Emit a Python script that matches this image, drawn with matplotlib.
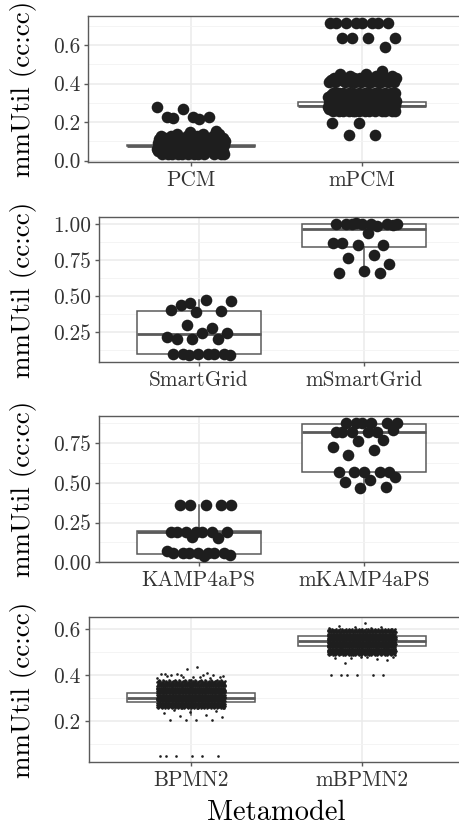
import numpy as np
import matplotlib.pyplot as plt

plt.rcParams['font.family'] = ['cmr10', 'DejaVu Serif']
plt.rcParams['axes.formatter.use_mathtext'] = True

# ---- data ----
y_title = "mmUtil (cc:cc)"
x_title = "Metamodel"

# panel 1: PCM / mPCM
pcm_cats = ["PCM", "mPCM"]
pcm_levels = [0.035, 0.05, 0.06, 0.07, 0.08, 0.09, 0.10, 0.11, 0.12, 0.13, 0.14]
pcm_counts = [12, 14, 14, 14, 14, 14, 12, 10, 8, 5, 3]
pcm_sparse = [0.225, 0.225, 0.228, 0.268, 0.28, 0.214, 0.22, 0.155, 0.148]
mpcm_levels = [0.26, 0.27, 0.28, 0.29, 0.30, 0.31, 0.32, 0.33, 0.34, 0.35,
               0.41, 0.42, 0.43, 0.44, 0.45, 0.466]
mpcm_counts = [14, 16, 16, 16, 16, 16, 16, 16, 16, 14,
               12, 10, 7, 3, 2, 1]
mpcm_sparse = [0.712, 0.712, 0.712, 0.712, 0.712, 0.712, 0.712, 0.712,
               0.634, 0.634, 0.634, 0.634, 0.591, 0.194, 0.194, 0.133, 0.133]
pcm_q1 = [0.074, 0.281]
pcm_med = [0.077, 0.284]
pcm_q3 = [0.081, 0.305]
pcm_wlo = [0.064, 0.26]
pcm_whi = [0.092, 0.33]
pcm_yticks = [0.0, 0.2, 0.4, 0.6]
pcm_ylabels = ["0.0", "0.2", "0.4", "0.6"]
pcm_yminor = [0.1, 0.3, 0.5, 0.7]

# panel 2: SmartGrid / mSmartGrid
sg_cats = ["SmartGrid", "mSmartGrid"]
sg_vals = [0.454, 0.466, 0.473, 0.438, 0.396, 0.387, 0.403, 0.28, 0.299,
           0.245, 0.241, 0.201, 0.201, 0.201, 0.217,
           0.097, 0.097, 0.097, 0.097, 0.097, 0.097, 0.092, 0.09]
msg_vals = [1.007, 1.0, 1.0, 1.0, 1.0, 1.0, 1.005, 0.99, 1.0, 0.995,
            0.937, 0.868, 0.856, 0.856, 0.872, 0.786, 0.763, 0.721,
            0.675, 0.663, 0.663]
sg_q1 = [0.099, 0.84]
sg_med = [0.234, 0.965]
sg_q3 = [0.398, 1.0]
sg_wlo = [0.09, 0.663]
sg_whi = [0.473, 1.007]
sg_yticks = [0.25, 0.50, 0.75, 1.00]
sg_ylabels = ["0.25", "0.50", "0.75", "1.00"]
sg_yminor = [0.125, 0.375, 0.625, 0.875]

# panel 3: KAMP4aPS / mKAMP4aPS
kamp_cats = ["KAMP4aPS", "mKAMP4aPS"]
kamp_vals = [0.361, 0.361, 0.361, 0.361, 0.361,
             0.193, 0.193, 0.193, 0.193, 0.193, 0.193, 0.193,
             0.155, 0.161, 0.071,
             0.057, 0.057, 0.057, 0.057, 0.057, 0.057, 0.057, 0.046, 0.042]
mkamp_vals = [0.879, 0.879, 0.875, 0.879, 0.875, 0.879,
              0.822, 0.822, 0.822, 0.833, 0.822, 0.822,
              0.770, 0.763, 0.728, 0.707, 0.676,
              0.571, 0.571, 0.571, 0.571, 0.571, 0.539, 0.518, 0.504,
              0.476, 0.466]
kamp_q1 = [0.052, 0.571]
kamp_med = [0.19, 0.821]
kamp_q3 = [0.195, 0.873]
kamp_wlo = [0.042, 0.472]
kamp_whi = [0.361, 0.879]
kamp_yticks = [0.00, 0.25, 0.50, 0.75]
kamp_ylabels = ["0.00", "0.25", "0.50", "0.75"]
kamp_yminor = [0.125, 0.375, 0.625, 0.875]

# panel 4: BPMN2 / mBPMN2
bpmn_cats = ["BPMN2", "mBPMN2"]
bpmn_levels = [0.255, 0.26, 0.265, 0.27, 0.275, 0.28, 0.285, 0.29, 0.295,
               0.30, 0.305, 0.31, 0.315, 0.32, 0.325, 0.33, 0.335, 0.34,
               0.345, 0.35, 0.355, 0.36, 0.365, 0.37, 0.375, 0.38]
bpmn_counts = [24, 38, 50, 55, 58, 60, 60, 60, 60, 60, 60, 60, 60,
               60, 60, 60, 60, 60, 58, 55, 50, 46, 40, 34, 26, 14]
bpmn_sparse = [0.404, 0.41, 0.40, 0.396, 0.433, 0.40, 0.40, 0.424, 0.406,
               0.40, 0.406, 0.392, 0.39, 0.395, 0.388, 0.392, 0.385, 0.39,
               0.248, 0.245, 0.24, 0.235, 0.226, 0.222, 0.219,
               0.204, 0.204, 0.204, 0.204,
               0.049, 0.049, 0.049, 0.049, 0.049, 0.049]
mbpmn_levels = [0.485, 0.49, 0.495, 0.50, 0.505, 0.51, 0.515, 0.52, 0.525,
                0.53, 0.535, 0.54, 0.545, 0.55, 0.555, 0.56, 0.565, 0.57,
                0.575, 0.58, 0.585, 0.59, 0.595, 0.60]
mbpmn_counts = [22, 36, 50, 56, 60, 60, 60, 60, 60, 60, 60, 60,
                60, 60, 60, 60, 60, 60, 60, 58, 55, 48, 38, 22]
mbpmn_sparse = [0.627, 0.612, 0.608, 0.61, 0.606, 0.604,
                0.453, 0.465, 0.478, 0.475, 0.47, 0.472, 0.476, 0.48,
                0.40, 0.40, 0.40, 0.40, 0.40, 0.40]
bpmn_q1 = [0.281, 0.527]
bpmn_med = [0.300, 0.549]
bpmn_q3 = [0.320, 0.571]
bpmn_wlo = [0.226, 0.48]
bpmn_whi = [0.378, 0.60]
bpmn_yticks = [0.2, 0.4, 0.6]
bpmn_ylabels = ["0.2", "0.4", "0.6"]
bpmn_yminor = [0.1, 0.3, 0.5]

# ---- styling ----
W, H = 460, 826
EDGE = '#5a5a5a'
POINT = '#1e1e1e'
JIT = 0.2


def jitter(n, center):
    # deterministic spread (golden ratio sequence), like geom_jitter
    frac = (np.arange(n) * 0.6180339887 + 0.37) % 1.0
    return center + (frac - 0.5) * 2 * JIT


def stats(q1, med, q3, wlo, whi):
    return [dict(q1=q1[i], med=med[i], q3=q3[i], whislo=wlo[i], whishi=whi[i])
            for i in range(2)]


fig = plt.figure(figsize=(W / 100, H / 100), dpi=100)


def panel(box, cats, groups, bstats, ylim, yticks, ylabels, yminor, size):
    left, right, top, bottom = box
    ax = fig.add_axes([left / W, 1 - bottom / H, (right - left) / W, (bottom - top) / H])
    ax.bxp(bstats, positions=[1, 2], widths=0.75, showfliers=False, showcaps=False,
           patch_artist=True,
           boxprops=dict(facecolor='white', edgecolor=EDGE, linewidth=1.1),
           medianprops=dict(color=EDGE, linewidth=2.0),
           whiskerprops=dict(color=EDGE, linewidth=1.1), zorder=2)
    for i, ys in enumerate(groups):
        ys = np.asarray(ys)
        ax.scatter(jitter(len(ys), i + 1), ys, s=size, color=POINT,
                   linewidths=0, zorder=3)
    ax.set_xlim(0.4, 2.6)
    ax.set_ylim(*ylim)
    ax.set_xticks([1, 2])
    ax.set_xticklabels(cats)
    ax.set_yticks(yticks)
    ax.set_yticklabels(ylabels)
    ax.set_yticks(yminor, minor=True)
    ax.set_axisbelow(True)
    ax.grid(which='major', color='#ebebeb', linewidth=1.1)
    ax.grid(which='minor', axis='y', color='#f3f3f3', linewidth=0.6)
    ax.tick_params(which='minor', length=0)
    ax.tick_params(which='major', length=3, width=1.0, color=EDGE,
                   labelsize=15.3, labelcolor='#333333', pad=3)
    for sp in ax.spines.values():
        sp.set_color(EDGE)
        sp.set_linewidth(1.0)
    ax.set_ylabel(y_title, fontsize=19.5)
    ax.yaxis.set_label_coords((37 - left) / (right - left), 0.5)
    return ax


panel((88.4, 464.6, 15.7, 162.3), pcm_cats,
      [np.concatenate([np.repeat(pcm_levels, pcm_counts), pcm_sparse]),
       np.concatenate([np.repeat(mpcm_levels, mpcm_counts), mpcm_sparse])],
      stats(pcm_q1, pcm_med, pcm_q3, pcm_wlo, pcm_whi),
      (-0.0086, 0.752), pcm_yticks, pcm_ylabels, pcm_yminor, 70)

panel((99.5, 463.7, 216.7, 362.3), sg_cats, [sg_vals, msg_vals],
      stats(sg_q1, sg_med, sg_q3, sg_wlo, sg_whi),
      (0.039, 1.053), sg_yticks, sg_ylabels, sg_yminor, 70)

panel((99.3, 463.7, 416, 562.3), kamp_cats, [kamp_vals, mkamp_vals],
      stats(kamp_q1, kamp_med, kamp_q3, kamp_wlo, kamp_whi),
      (0.0, 0.921), kamp_yticks, kamp_ylabels, kamp_yminor, 70)

ax4 = panel((88.6, 464.1, 617, 762.3), bpmn_cats,
            [np.concatenate([np.repeat(bpmn_levels, bpmn_counts), bpmn_sparse]),
             np.concatenate([np.repeat(mbpmn_levels, mbpmn_counts), mbpmn_sparse])],
            stats(bpmn_q1, bpmn_med, bpmn_q3, bpmn_wlo, bpmn_whi),
            (0.0204, 0.652), bpmn_yticks, bpmn_ylabels, bpmn_yminor, 3.6)
ax4.set_xlabel(x_title, fontsize=20.5)
ax4.xaxis.set_label_coords(0.5, (762.3 - 800) / (762.3 - 617))

fig.savefig("out.png", dpi=100)
